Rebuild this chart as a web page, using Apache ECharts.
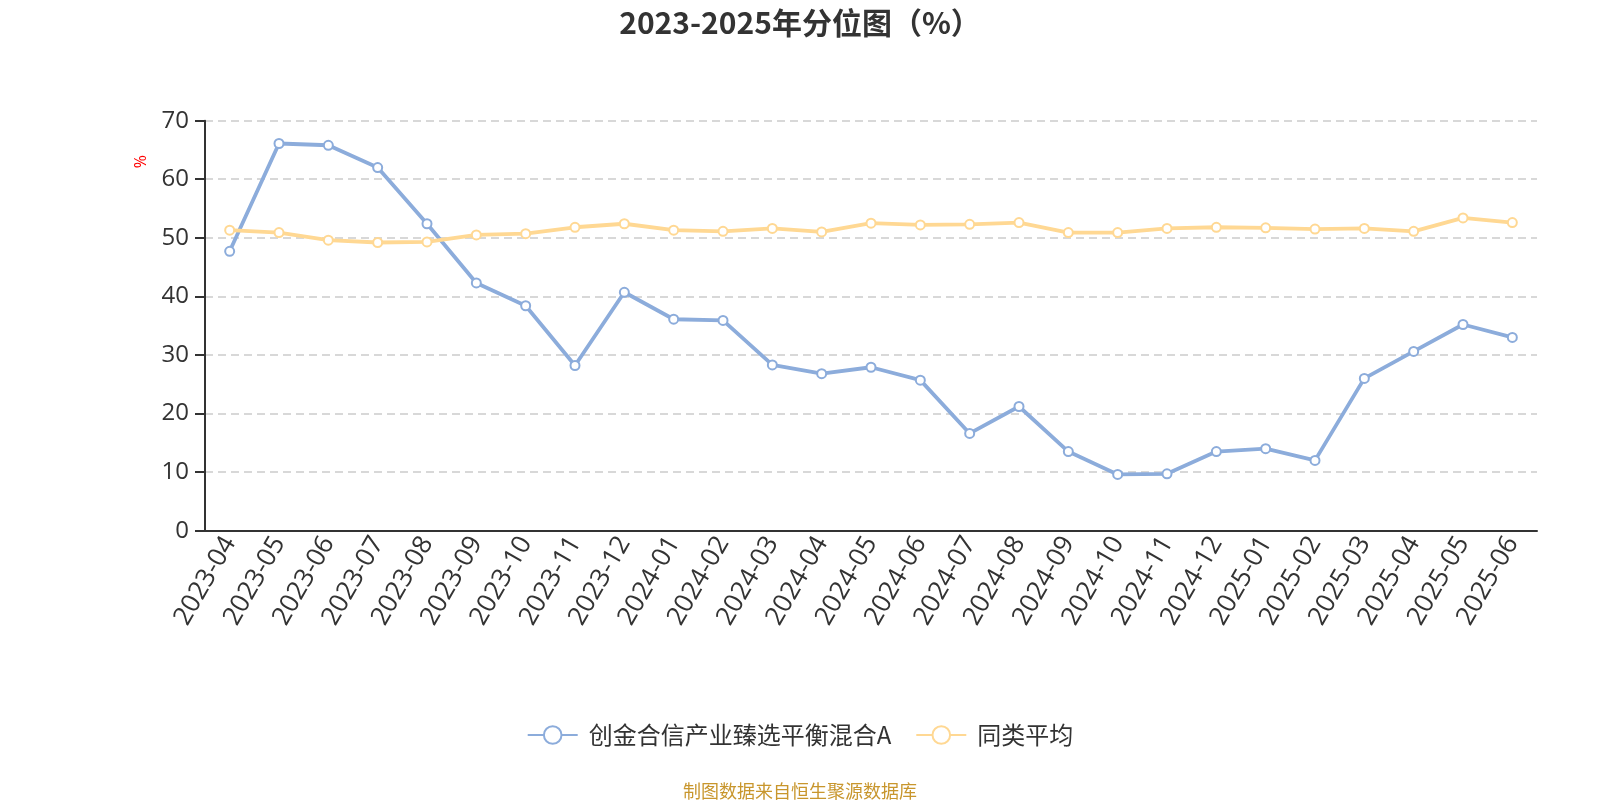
<!DOCTYPE html>
<html>
<head>
<meta charset="utf-8">
<script src="https://cdn.jsdelivr.net/npm/echarts@6/dist/echarts.min.js"></script>
<style>
html,body{margin:0;padding:0;background:#fff;}
#main{width:1600px;height:800px;}
</style>
</head>
<body>
<div id="main"></div>
<script>
var categories = ["2023-04","2023-05","2023-06","2023-07","2023-08","2023-09","2023-10","2023-11","2023-12",
  "2024-01","2024-02","2024-03","2024-04","2024-05","2024-06","2024-07","2024-08","2024-09","2024-10","2024-11","2024-12",
  "2025-01","2025-02","2025-03","2025-04","2025-05","2025-06"];
var fundName = "创金合信产业臻选平衡混合A";
var avgName = "同类平均";
var fundValues = [47.7, 66.1, 65.8, 62.0, 52.4, 42.3, 38.4, 28.2, 40.7, 36.1, 35.9, 28.3, 26.8, 27.9, 25.7, 16.6, 21.2, 13.5, 9.6, 9.7, 13.5, 14.0, 12.0, 26.0, 30.6, 35.2, 33.0];
var avgValues = [51.3, 50.9, 49.6, 49.2, 49.3, 50.5, 50.7, 51.8, 52.4, 51.3, 51.1, 51.6, 51.0, 52.5, 52.2, 52.3, 52.6, 50.9, 50.9, 51.6, 51.8, 51.7, 51.5, 51.6, 51.1, 53.4, 52.6];
var yTicks = [0, 10, 20, 30, 40, 50, 60, 70];

var FONT = '"Noto Sans CJK SC", "Noto Sans", sans-serif';
var LATIN = '"Open Sans", "Noto Sans CJK SC", sans-serif';
var chart = echarts.init(document.getElementById('main'), null, {renderer: 'canvas'});
var option = {
  backgroundColor: '#ffffff',
  textStyle: {fontFamily: FONT},
  title: [
    {
      text: '2023-2025年分位图（%）',
      left: 'center',
      top: 3,
      textStyle: {fontSize: 30, fontWeight: 'bold', color: '#333333', fontFamily: FONT}
    },
    {
      text: '制图数据来自恒生聚源数据库',
      left: 'center',
      top: 777,
      textStyle: {fontSize: 18, fontWeight: 'normal', color: '#c8962d', fontFamily: FONT}
    }
  ],
  legend: {
    data: [fundName, avgName],
    left: 'center',
    top: 718,
    itemWidth: 50,
    itemHeight: 22,
    itemGap: 24,
    textStyle: {fontSize: 24, color: '#333333', fontFamily: FONT, padding: [0, 0, 0, 6]}
  },
  grid: {left: 205, right: 63, top: 120.67, bottom: 269.33, containLabel: false},
  xAxis: {
    type: 'category',
    data: categories,
    boundaryGap: true,
    axisLine: {lineStyle: {color: '#333333', width: 2}},
    axisTick: {length: 8, lineStyle: {color: '#333333', width: 2}},
    axisLabel: {rotate: 60, fontSize: 26, color: '#333333', margin: 8, interval: 0, fontFamily: LATIN}
  },
  yAxis: {
    type: 'value',
    min: yTicks[0],
    max: yTicks[yTicks.length - 1],
    interval: 10,
    axisLine: {show: true, lineStyle: {color: '#333333', width: 2}},
    axisTick: {show: true, length: 10, lineStyle: {color: '#333333', width: 2}},
    axisLabel: {fontSize: 24, color: '#333333', margin: 16, fontFamily: LATIN},
    splitLine: {show: true, lineStyle: {color: '#cccccc', width: 1.5, type: [8, 5]}}
  },
  graphic: [
    {
      type: 'text',
      x: 141.7,
      y: 161.7,
      rotation: Math.PI / 2,
      style: {text: '%', fill: '#ff0000', font: '16px ' + LATIN, align: 'center', verticalAlign: 'middle'}
    }
  ],
  series: [
    {
      name: fundName,
      type: 'line',
      data: fundValues,
      symbol: 'emptyCircle',
      symbolSize: 9,
      color: '#8cacdb',
      lineStyle: {width: 3.8, color: '#8cacdb'},
      itemStyle: {color: '#8cacdb', borderWidth: 2},
      animation: false
    },
    {
      name: avgName,
      type: 'line',
      data: avgValues,
      symbol: 'emptyCircle',
      symbolSize: 9,
      color: '#ffd893',
      lineStyle: {width: 3.8, color: '#ffd893'},
      itemStyle: {color: '#ffd893', borderWidth: 2},
      animation: false
    }
  ],
  animation: false
};
chart.setOption(option);
</script>
</body>
</html>
